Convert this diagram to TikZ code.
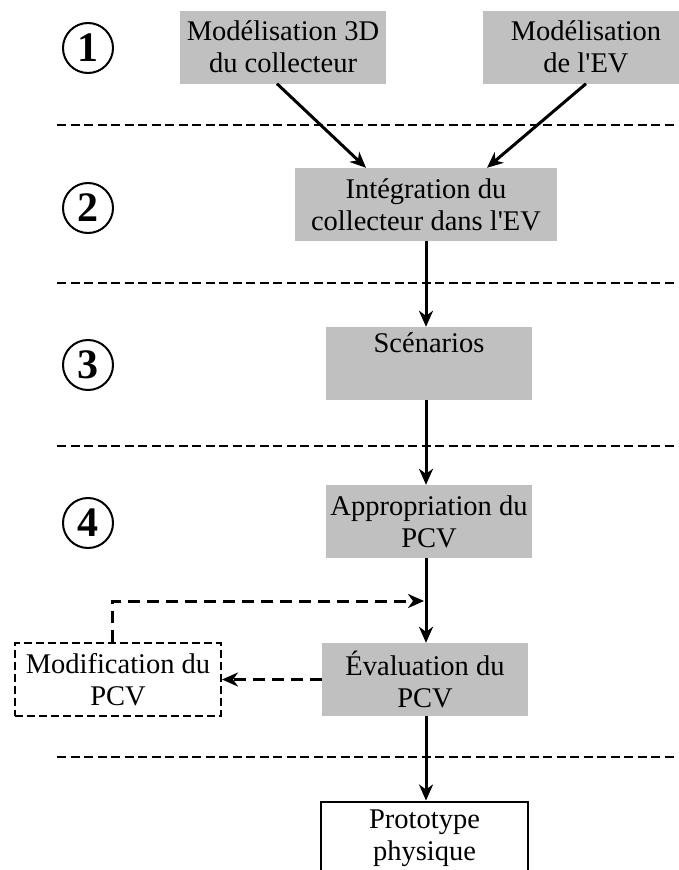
\documentclass[tikz,border=0pt]{standalone}
\usepackage{fontspec}
\setmainfont{Liberation Serif}
\usetikzlibrary{arrows.meta}
\definecolor{boxgray}{RGB}{192,192,192}
\begin{document}
\begin{tikzpicture}[x=1pt,y=-1pt,
  every node/.style={font=\fontsize{28.5}{32}\selectfont, align=center, inner sep=0pt},
  graybox/.style={fill=boxgray, minimum width=206pt, minimum height=73pt},
  widebox/.style={fill=boxgray, minimum width=262pt, minimum height=73pt},
  modbox/.style={draw, dash pattern=on 8pt off 4pt, line width=2pt, minimum width=206pt, minimum height=73pt},
  protobox/.style={draw, line width=2pt, fill=white, minimum width=207pt, minimum height=73pt},
  num/.style={draw, circle, line width=2pt, minimum size=50pt, font=\fontsize{42}{44}\selectfont\bfseries},
  sep/.style={line width=2pt, dash pattern=on 9pt off 4.5pt},
  flow/.style={line width=3pt, -{Stealth[length=16pt,width=14pt,inset=5pt]}},
  fb/.style={line width=3pt, dash pattern=on 12pt off 7pt, -{Stealth[length=16pt,width=14pt,inset=5pt]}}
]
\useasboundingbox (0,0) rectangle (678,870);

% separators
\coordinate (s1a) at (57,125); \coordinate (s1b) at (678,125);
\coordinate (s2a) at (57,283); \coordinate (s2b) at (678,283);
\coordinate (s3a) at (57,446); \coordinate (s3b) at (678,446);
\coordinate (s4a) at (57,757); \coordinate (s4b) at (678,757);
\draw[sep] (s1a) -- (s1b);
\draw[sep] (s2a) -- (s2b);
\draw[sep] (s3a) -- (s3b);
\draw[sep] (s4a) -- (s4b);

% step numbers
\node[num] (n1) at (88,48) {1};
\node[num] (n2) at (88,208) {2};
\node[num] (n3) at (88,365) {3};
\node[num] (n4) at (88,523) {4};

% boxes
\node[graybox] (m3d) at (283,47) {Modélisation 3D\\du collecteur};
\node[graybox] (mev) at (586,47) {Modélisation\\de l\textquotesingle EV};
\node[widebox] (integ) at (426,204.5) {Intégration du\\collecteur dans l\textquotesingle EV};
\node[graybox] (scen) at (429,363.5) {Scénarios\\\strut};
\node[graybox] (appr) at (429,521.5) {Appropriation du\\PCV};
\node[graybox] (eval) at (425,679.5) {Évaluation du\\PCV};
\node[modbox] (modif) at (118,679.5) {Modification du\\PCV};
\node[protobox] (proto) at (424.5,838) {Prototype\\physique};

% connectors
\draw[flow] (m3d.south) ++(-6,0) -- ([xshift=-60pt]integ.north);
\draw[flow] (mev.south) -- ([xshift=61pt]integ.north);
\draw[flow] (integ.south) -- (scen.north -| integ.south);
\draw[flow] (scen.south -| integ.south) -- (appr.north -| integ.south);
\draw[flow] (appr.south -| integ.south) -- (eval.north -| integ.south);
\draw[flow] (eval.south -| integ.south) -- (proto.north -| integ.south);

\coordinate (fbturn) at (112,601);
\coordinate (fbend) at (424,601);
\draw[fb] ([xshift=-6pt]modif.north) -- (fbturn) -- (fbend);
\draw[fb] (eval.west) -- (modif.east);
\end{tikzpicture}
\end{document}
